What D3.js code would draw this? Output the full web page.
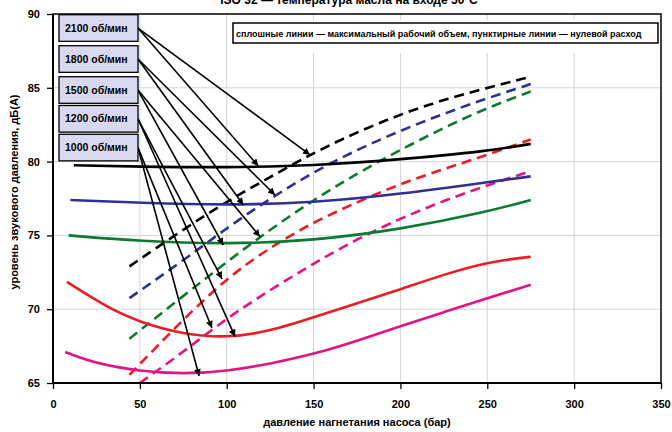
<!DOCTYPE html>
<html>
<head>
<meta charset="utf-8">
<script src="https://cdn.jsdelivr.net/npm/d3@7"></script>
<style>
  body { margin: 0; background: #fff; }
  svg { font-family: "Liberation Sans", Arial, sans-serif; font-weight: bold; }
</style>
</head>
<body>
<div class="visHolder"></div>
<script>
const w = 672;
const h = 432;

// data
const xTicks = [0, 50, 100, 150, 200, 250, 300, 350];
const yTicks = [65, 70, 75, 80, 85, 90];
const speeds = ['2100 об/мин', '1800 об/мин', '1500 об/мин', '1200 об/мин', '1000 об/мин'];

const solid2100 = [[12, 79.75], [50, 79.65], [100, 79.6], [150, 79.72], [200, 80.15], [250, 80.7], [275, 81.2]];
const solid1800 = [[10, 77.4], [50, 77.2], [100, 77.05], [150, 77.2], [200, 77.8], [250, 78.6], [275, 79.0]];
const solid1500 = [[9, 75.0], [50, 74.6], [100, 74.4], [150, 74.65], [200, 75.4], [250, 76.6], [275, 77.4]];
const solid1200 = [[8, 71.85], [30, 70.2], [50, 69.1], [75, 68.3], [100, 68.05], [125, 68.5], [150, 69.45], [175, 70.4], [200, 71.35], [225, 72.35], [250, 73.2], [275, 73.55]];
const solid1000 = [[7, 67.1], [25, 66.3], [50, 65.8], [75, 65.6], [100, 65.8], [125, 66.3], [150, 66.95], [175, 67.85], [200, 68.85], [225, 69.8], [250, 70.75], [275, 71.65]];

const dashed2100 = [[44, 72.9], [75, 75.4], [100, 77.3], [125, 78.95], [150, 80.6], [175, 82.0], [200, 83.2], [225, 84.2], [250, 85.0], [275, 85.75]];
const dashed1800 = [[44, 70.75], [75, 73.3], [100, 75.5], [125, 77.5], [150, 79.3], [175, 80.8], [200, 82.1], [225, 83.25], [250, 84.3], [275, 85.25]];
const dashed1500 = [[44, 68.0], [75, 70.9], [100, 73.2], [125, 75.4], [150, 77.4], [175, 79.2], [200, 80.8], [225, 82.3], [250, 83.65], [275, 84.75]];
const dashed1200 = [[44, 65.55], [60, 67.5], [75, 69.3], [100, 72.1], [125, 74.2], [150, 75.9], [175, 77.25], [200, 78.5], [225, 79.5], [250, 80.45], [275, 81.5]];
const dashed1000 = [[50, 65.0], [75, 67.1], [100, 69.4], [125, 71.3], [150, 73.1], [175, 74.75], [200, 76.15], [225, 77.35], [250, 78.4], [275, 79.35]];

// arrow start (label box) and the two points it points to, in chart units
const arrowFrom = [[48.9, 89.05], [48.9, 86.95], [48.9, 84.85], [48.9, 82.9], [48.9, 80.95]];
const arrowTo = [
  [[148, 80.45], [118.2, 79.7]],
  [[127.8, 77.74], [109.6, 77.06]],
  [[119.2, 74.91], [98, 74.35]],
  [[97.3, 72.05], [104.8, 68.14]],
  [[91.5, 68.73], [84.1, 65.47]]
];

const colors = ['#000000', '#2e3192', '#0b7a2e', '#ec1c24', '#e5137f'];
const solids = [solid2100, solid1800, solid1500, solid1200, solid1000];
const dashes = [dashed2100, dashed1800, dashed1500, dashed1200, dashed1000];

const margin = { left: 53, right: 11, top: 14, bottom: 49 };

const svg = d3.select('.visHolder')
  .append('svg')
  .attr('width', w)
  .attr('height', h);

const xScale = d3.scaleLinear().domain([0, 350]).range([margin.left, w - margin.right]);
const yScale = d3.scaleLinear().domain([65, 90]).range([h - margin.bottom, margin.top]);

// grid
svg.append('g')
  .selectAll('line')
  .data(xTicks.slice(1, -1))
  .enter()
  .append('line')
  .attr('x1', d => xScale(d)).attr('x2', d => xScale(d))
  .attr('y1', yScale(90)).attr('y2', yScale(65))
  .style('stroke', '#d4d4d8');

svg.append('g')
  .selectAll('line')
  .data(yTicks.slice(1, -1))
  .enter()
  .append('line')
  .attr('x1', xScale(0)).attr('x2', xScale(350))
  .attr('y1', d => yScale(d)).attr('y2', d => yScale(d))
  .style('stroke', '#d4d4d8');

// white area behind the legend text box
svg.append('rect')
  .attr('x', 229)
  .attr('y', 20)
  .attr('width', xScale(350) - 230)
  .attr('height', 33)
  .style('fill', '#fff');

// curves
const line = d3.line()
  .x(d => xScale(d[0]))
  .y(d => yScale(d[1]))
  .curve(d3.curveBasis);

svg.append('g')
  .selectAll('path')
  .data(dashes)
  .enter()
  .append('path')
  .attr('d', line)
  .style('fill', 'none')
  .style('stroke', (d, i) => colors[i])
  .style('stroke-width', 2.6)
  .style('stroke-dasharray', '10,6');

svg.append('g')
  .selectAll('path')
  .data(solids)
  .enter()
  .append('path')
  .attr('d', line)
  .style('fill', 'none')
  .style('stroke', (d, i) => colors[i])
  .style('stroke-width', 2.6);

// arrows
svg.append('defs')
  .append('marker')
  .attr('id', 'arrow')
  .attr('viewBox', '0 0 10 10')
  .attr('refX', 10)
  .attr('refY', 5)
  .attr('markerWidth', 9)
  .attr('markerHeight', 7)
  .attr('markerUnits', 'userSpaceOnUse')
  .attr('orient', 'auto')
  .append('path')
  .attr('d', 'M0,0L10,5L0,10z')
  .style('fill', '#000');

const arrowLines = [];
arrowFrom.forEach((f, i) => {
  arrowTo[i].forEach(t => arrowLines.push([f, t]));
});

svg.append('g')
  .selectAll('line')
  .data(arrowLines)
  .enter()
  .append('line')
  .attr('x1', d => xScale(d[0][0]))
  .attr('y1', d => yScale(d[0][1]))
  .attr('x2', d => xScale(d[1][0]))
  .attr('y2', d => yScale(d[1][1]))
  .style('stroke', '#000')
  .style('stroke-width', 1.6)
  .attr('marker-end', 'url(#arrow)');

// rpm label boxes
const boxes = svg.append('g')
  .selectAll('g')
  .data(speeds)
  .enter()
  .append('g')
  .attr('transform', (d, i) => 'translate(59,' + (yScale(arrowFrom[i][1]) - 13.3) + ')');

boxes.append('rect')
  .attr('width', 79)
  .attr('height', 26.6)
  .style('fill', '#d8d9ee')
  .style('stroke', '#000')
  .style('stroke-width', 1.3);

boxes.append('text')
  .attr('x', 6)
  .attr('y', 17)
  .style('font-size', '10.5px')
  .text(d => d);

// legend text box
svg.append('rect')
  .attr('x', 233)
  .attr('y', 23)
  .attr('width', 425)
  .attr('height', 20)
  .style('fill', '#fff')
  .style('stroke', '#000')
  .style('stroke-width', 1.5);

svg.append('text')
  .attr('x', 236)
  .attr('y', 36.5)
  .style('font-size', '9px')
  .text('сплошные линии — максимальный рабочий объем, пунктирные линии — нулевой расход');

// axes
const xAxis = d3.axisBottom(xScale).tickValues(xTicks).tickSize(6).tickPadding(11);
svg.append('g')
  .attr('transform', 'translate(0,' + yScale(65) + ')')
  .call(xAxis)
  .call(g => g.select('.domain').remove())
  .call(g => g.selectAll('line').style('stroke', '#000').style('stroke-width', 1.3))
  .call(g => g.selectAll('text').style('font-size', '11px').style('font-family', '"Liberation Sans", Arial, sans-serif').style('font-weight', 'bold').style('fill', '#000'));

const yAxis = d3.axisLeft(yScale).tickValues(yTicks).tickSize(6).tickPadding(7);
svg.append('g')
  .attr('transform', 'translate(' + xScale(0) + ',0)')
  .call(yAxis)
  .call(g => g.select('.domain').remove())
  .call(g => g.selectAll('line').style('stroke', '#000').style('stroke-width', 1.3))
  .call(g => g.selectAll('text').style('font-size', '11px').style('font-family', '"Liberation Sans", Arial, sans-serif').style('font-weight', 'bold').style('fill', '#000'));

// frame
svg.append('rect')
  .attr('x', xScale(0))
  .attr('y', yScale(90))
  .attr('width', xScale(350) - xScale(0))
  .attr('height', yScale(65) - yScale(90))
  .style('fill', 'none')
  .style('stroke', '#000')
  .style('stroke-width', 1.5);

svg.append('line')
  .attr('x1', xScale(0) - 1).attr('x2', xScale(350))
  .attr('y1', yScale(65)).attr('y2', yScale(65))
  .style('stroke', '#000')
  .style('stroke-width', 2);

svg.append('line')
  .attr('x1', xScale(0)).attr('x2', xScale(0))
  .attr('y1', yScale(90)).attr('y2', yScale(65))
  .style('stroke', '#000')
  .style('stroke-width', 2);

// titles
svg.append('text')
  .attr('x', 349)
  .attr('y', 4)
  .style('text-anchor', 'middle')
  .style('font-size', '12px')
  .text('ISO 32 — температура масла на входе 50°C');

svg.append('text')
  .attr('x', (xScale(0) + xScale(350)) / 2)
  .attr('y', 426)
  .style('text-anchor', 'middle')
  .style('font-size', '11px')
  .text('давление нагнетания насоса (бар)');

svg.append('text')
  .attr('transform', 'rotate(-90)')
  .attr('x', -192)
  .attr('y', 18)
  .style('text-anchor', 'middle')
  .style('font-size', '11px')
  .text('уровень звукового давления, дБ(А)');
</script>
</body>
</html>
